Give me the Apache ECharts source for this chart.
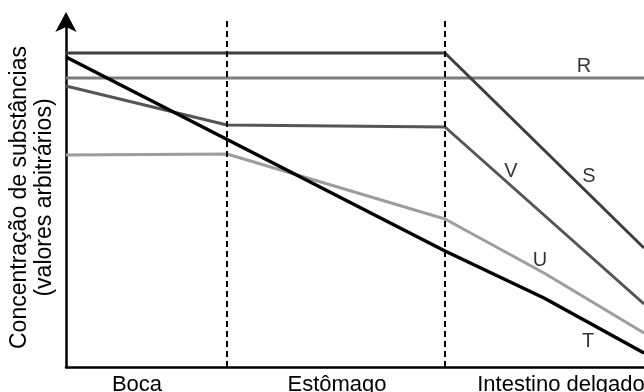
<!DOCTYPE html>
<html>
<head>
<meta charset="utf-8">
<script src="https://cdn.jsdelivr.net/npm/echarts@6.0.0/dist/echarts.min.js"></script>
<style>
  html, body { margin: 0; padding: 0; background: #fff; }
  #chart { width: 644px; height: 392px; }
</style>
</head>
<body>
<div id="chart"></div>
<script>
// eixo x: posição ao longo do tubo digestivo (unidades arbitrárias)
const regionNames = ['Boca', 'Estômago', 'Intestino delgado'];
const regionCenters = [71, 271, 495];
const regionBounds = [161, 379];

// concentração de cada substância
const seriesR = [[0, 289], [578, 289]];
const seriesS = [[0, 314], [379, 314], [578, 119]];
const seriesV = [[0, 281], [161, 242], [379, 240], [578, 63]];
const seriesU = [[0, 212], [161, 213], [379, 148], [478, 94], [578, 34]];
const seriesT = [[0, 310], [379, 116], [478, 69], [578, 14]];

// rótulos das curvas
const curveNames = ['R', 'S', 'V', 'U', 'T'];
const curveLabelPos = [[518, 301], [523, 191], [445, 196], [474, 107], [522, 26]];

const FONT = 'Liberation Sans, Arial, sans-serif';

var chart = echarts.init(document.getElementById('chart'), null, { renderer: 'canvas' });

function lineSeries(name, data, color, width) {
  return {
    name: name,
    type: 'line',
    data: data,
    symbol: 'none',
    silent: true,
    lineStyle: { color: color, width: width || 3 },
    z: 3
  };
}

var option = {
  backgroundColor: '#fff',
  animation: false,
  grid: {
    left: 66,
    right: 0,
    top: 18,
    bottom: 25,
    outerBoundsMode: 'none'
  },
  xAxis: {
    type: 'value',
    min: 0,
    max: 578,
    splitLine: { show: false },
    axisTick: { show: false },
    axisLine: { show: true, onZero: false, lineStyle: { color: '#000', width: 2.5 } },
    axisLabel: {
      customValues: regionCenters,
      formatter: function (v) {
        return regionNames[regionCenters.indexOf(v)];
      },
      color: '#000',
      fontFamily: FONT,
      fontSize: 22,
      margin: 7
    }
  },
  yAxis: {
    type: 'value',
    min: 0,
    max: 349,
    splitLine: { show: false },
    axisTick: { show: false },
    axisLabel: { show: false },
    axisLine: {
      show: true,
      onZero: false,
      symbol: ['none', 'arrow'],
      symbolSize: [16, 20],
      symbolOffset: [0, 6],
      lineStyle: { color: '#000', width: 2.5 }
    },
    name: 'Concentração de substâncias\n(valores arbitrários)',
    nameLocation: 'middle',
    nameGap: 9,
    nameTextStyle: {
      color: '#000',
      fontFamily: FONT,
      fontSize: 23,
      lineHeight: 25,
      padding: [0, 10, 0, 0]
    }
  },
  series: [
    lineSeries('R', seriesR, '#7d7d7d'),
    Object.assign(lineSeries('S', seriesS, '#3d3d3d'), {
      markLine: {
        silent: true,
        symbol: 'none',
        label: { show: false },
        lineStyle: { color: '#000', width: 2, type: [6, 4] },
        data: regionBounds.map(function (x) { return { xAxis: x }; })
      }
    }),
    lineSeries('V', seriesV, '#555555'),
    lineSeries('U', seriesU, '#9d9d9d'),
    lineSeries('T', seriesT, '#000000', 3.5),
    {
      type: 'scatter',
      silent: true,
      symbolSize: 1,
      itemStyle: { color: 'transparent' },
      data: curveLabelPos.map(function (p, i) { return { value: p, name: curveNames[i] }; }),
      label: {
        show: true,
        position: 'inside',
        formatter: '{b}',
        color: '#000',
        fontFamily: FONT,
        fontSize: 20
      },
      z: 5
    }
  ]
};

chart.setOption(option);
</script>
</body>
</html>
